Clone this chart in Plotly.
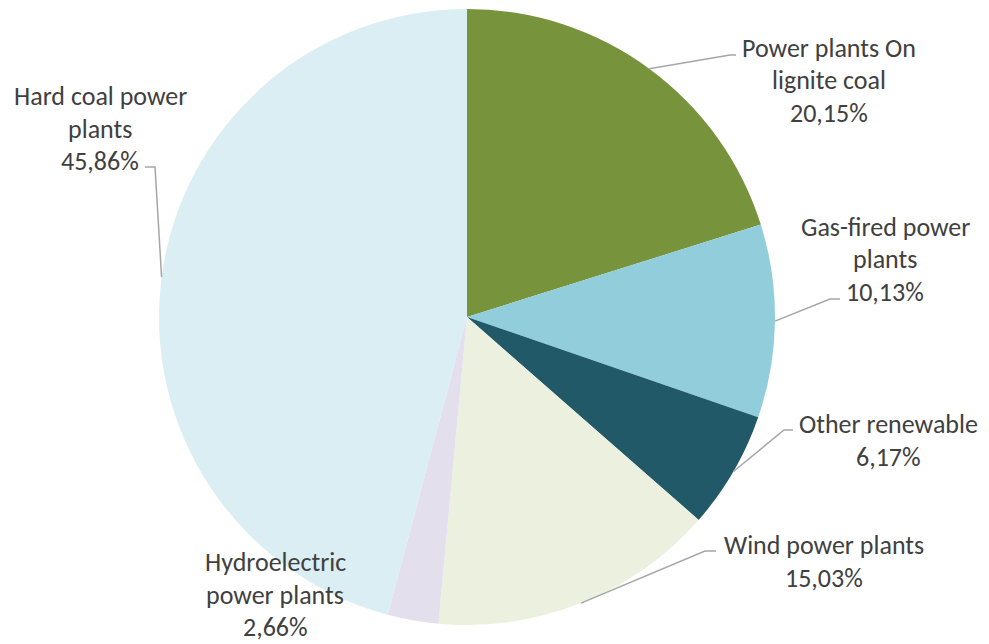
"""Pie chart of electricity generation by plant type."""

import math

import plotly.graph_objects as go

# the page body adds an 8px margin round the plot, so the figure is made 8px smaller
# than the window and pixel targets are shifted back by that margin
OFFSET = 8
W, H = 989 - OFFSET, 644 - OFFSET

labels = [
    "Power plants On lignite coal",
    "Gas-fired power plants",
    "Other renewable",
    "Wind power plants",
    "Hydroelectric power plants",
    "Hard coal power plants",
]
label_lines = [
    ["Power plants On", "lignite coal"],
    ["Gas-fired power", "plants"],
    ["Other renewable"],
    ["Wind power plants"],
    ["Hydroelectric", "power plants"],
    ["Hard coal power", "plants"],
]
shares = [20.15, 10.13, 6.17, 15.03, 2.66, 45.86]
colors = ["#77933C", "#92CDDC", "#215968", "#EBF1DE", "#E4DFEC", "#DAEEF3"]

# label placement (pixels): centre x, centre y of first line
label_pos = [(829, 48), (885, 227), (888, 424), (824, 545), (275, 562), (100, 96)]
# leader line elbow points (pixels), None where no line is drawn
elbows = [
    [(730, 55), (736, 55)],
    [(830, 299), (840, 299)],
    [(784, 430), (793, 430)],
    [(705, 551), (716, 551)],
    None,
    [(155, 167), (145, 167)],
]

CX, CY, R = 467, 317, 308
LINE_GAP = 32.5
FONT = "Calibri, Carlito, Lato, sans-serif"
TEXT_COLOR = "#404040"


def px(x, y):
    return (x - OFFSET) / W, 1 - (y - OFFSET) / H


x0, y0 = px(CX - R, CY + R)
x1, y1 = px(CX + R, CY - R)

fig = go.Figure(
    go.Pie(
        labels=labels,
        values=shares,
        sort=False,
        direction="clockwise",
        rotation=0,
        marker=dict(colors=colors, line=dict(width=0)),
        textinfo="none",
        hoverinfo="label+percent",
        domain=dict(x=[x0, x1], y=[y0, y1]),
    )
)

total = sum(shares)
cum = 0.0
for name_lines, share, (lx, ly), elbow in zip(label_lines, shares, label_pos, elbows):
    lines = name_lines + [f"{share:.2f}".replace(".", ",") + "%"]
    for i, line in enumerate(lines):
        ax, ay = px(lx, ly + i * LINE_GAP)
        fig.add_annotation(
            x=ax, y=ay, xref="paper", yref="paper", text=line, showarrow=False,
            xanchor="center", yanchor="middle",
            font=dict(family=FONT, size=26, color=TEXT_COLOR),
        )
    mid = (cum + share / 2) / total * 2 * math.pi
    cum += share
    if elbow is None:
        continue
    sx = CX + R * math.sin(mid)
    sy = CY - R * math.cos(mid)
    pts = [px(sx, sy)] + [px(x, y) for x, y in elbow]
    path = "M " + " L ".join(f"{x:.5f},{y:.5f}" for x, y in pts)
    fig.add_shape(type="path", path=path, xref="paper", yref="paper",
                  line=dict(color="#A6A6A6", width=1.5))

fig.update_layout(
    width=W, height=H,
    margin=dict(l=0, r=0, t=0, b=0),
    showlegend=False,
    paper_bgcolor="white",
    plot_bgcolor="white",
)

fig.write_html("out.html")
